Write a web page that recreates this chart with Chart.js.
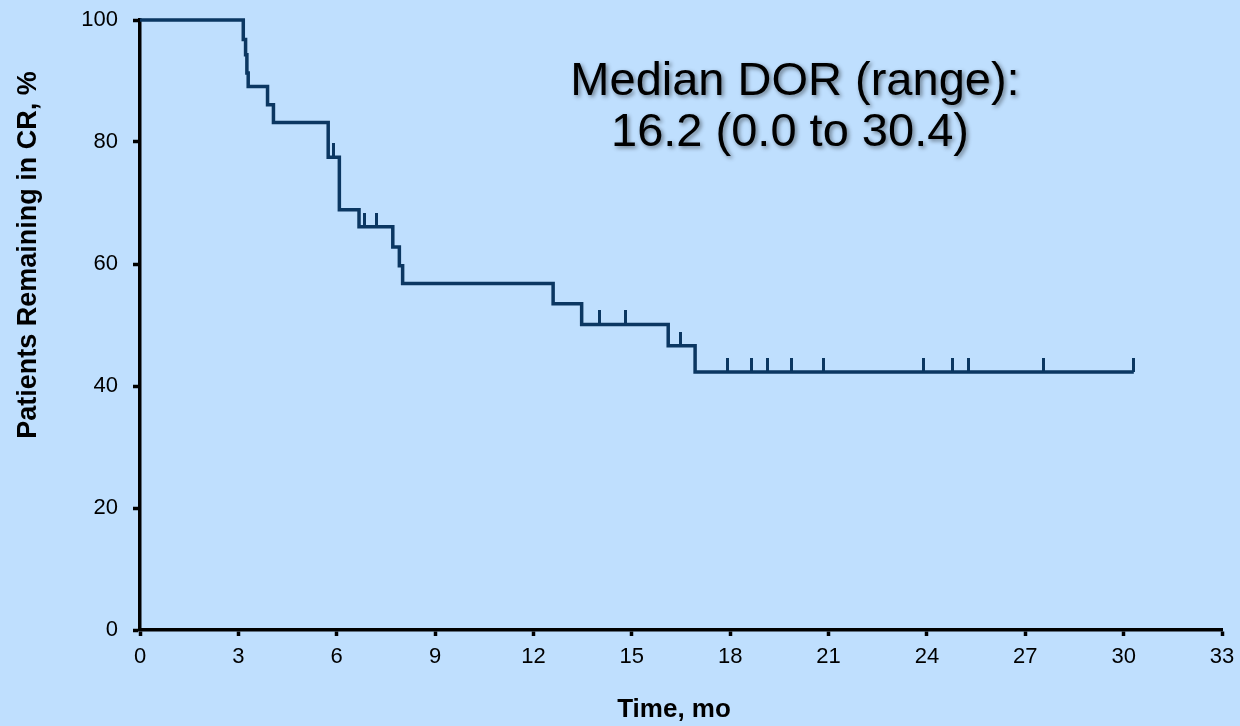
<!DOCTYPE html>
<html>
<head>
<meta charset="utf-8">
<title>Duration of complete response</title>
<script src="https://cdn.jsdelivr.net/npm/chart.js@4.4.1/dist/chart.umd.min.js"></script>
<style>
  html, body { margin: 0; padding: 0; background: #bfdffe; }
  #wrap { width: 1240px; height: 726px; }
  canvas { display: block; }
</style>
</head>
<body>
<div id="wrap"><canvas id="km" width="1240" height="726"></canvas></div>
<script>
// Kaplan–Meier curve: time of each drop (months) and the level after it (%)
const stepTimes  = [0, 3.15, 3.22, 3.26, 3.30, 3.89, 4.07, 5.74, 6.08, 6.68, 7.71, 7.91, 8.01, 12.60, 13.47, 16.11, 16.93];
const stepLevels = [100, 96.8, 94.3, 91.3, 89.1, 86.1, 83.2, 77.5, 68.9, 66.1, 62.8, 59.7, 56.8, 53.5, 50.1, 46.6, 42.3];
const lastFollowUp = 30.31;

// Censored observations (months)
const censorTimes = [5.90, 6.86, 7.20, 14.01, 14.80, 16.49, 17.91, 18.64, 19.13, 19.88, 20.86, 23.91, 24.77, 25.28, 27.55, 30.31];

// Axis ticks and texts
const xTicks = [0, 3, 6, 9, 12, 15, 18, 21, 24, 27, 30, 33];
const yTicks = [0, 20, 40, 60, 80, 100];
const xTitle = 'Time, mo';
const yTitle = 'Patients Remaining in CR, %';
const noteLines = ['Median DOR (range):', '16.2 (0.0 to 30.4)'];

const NAVY = '#0b3762';
const FONT = '"Liberation Sans", Arial, Helvetica, sans-serif';
Chart.defaults.font.family = FONT;
Chart.defaults.color = '#000';

// curve level at time t (last drop at or before t)
function levelAt(t) {
  let v = stepLevels[0];
  for (let i = 0; i < stepTimes.length; i++) {
    if (stepTimes[i] <= t) v = stepLevels[i];
  }
  return v;
}

const curve = stepTimes.map((t, i) => ({ x: t, y: stepLevels[i] }));
curve.push({ x: lastFollowUp, y: levelAt(lastFollowUp) });
const censored = censorTimes.map(t => ({ x: t, y: levelAt(t) }));

// censor mark: short vertical stroke rising from the curve
const tickMark = document.createElement('canvas');
tickMark.width = 3;
tickMark.height = 28;
(function () {
  const c = tickMark.getContext('2d');
  c.fillStyle = NAVY;
  c.fillRect(0, 0, 3, 14);
})();

// rotated y title, x title and the median annotation
const extraText = {
  id: 'extraText',
  afterDraw(chart) {
    const ctx = chart.ctx;
    ctx.save();
    ctx.fillStyle = '#000';
    ctx.font = 'bold 27px ' + FONT;
    ctx.textAlign = 'center';
    ctx.textBaseline = 'middle';
    ctx.save();
    ctx.translate(29, 255);
    ctx.rotate(-Math.PI / 2);
    ctx.fillText(yTitle, 0, 0);
    ctx.restore();
    ctx.font = 'bold 26px ' + FONT;
    ctx.fillText(xTitle, 674, 710);
    ctx.restore();

    ctx.save();
    ctx.font = '47px ' + FONT;
    ctx.fillStyle = '#000';
    ctx.textAlign = 'center';
    ctx.textBaseline = 'alphabetic';
    ctx.shadowColor = 'rgba(0, 0, 0, 0.45)';
    ctx.shadowOffsetX = 2;
    ctx.shadowOffsetY = 2;
    ctx.shadowBlur = 4;
    ctx.fillText(noteLines[0], 795, 95);
    ctx.fillText(noteLines[1], 790, 146);
    ctx.restore();
  }
};

new Chart(document.getElementById('km'), {
  type: 'line',
  data: {
    datasets: [
      {
        label: 'CR',
        data: curve,
        stepped: 'before',
        borderColor: NAVY,
        borderWidth: 3.5,
        borderJoinStyle: 'miter',
        borderCapStyle: 'butt',
        pointRadius: 0,
        fill: false,
        clip: false
      },
      {
        label: 'Censored',
        data: censored,
        showLine: false,
        pointStyle: tickMark,
        pointRadius: 5,
        borderWidth: 0,
        clip: false
      }
    ]
  },
  options: {
    responsive: false,
    animation: false,
    devicePixelRatio: 1,
    layout: { padding: { top: 20, right: 18, left: 0, bottom: 0 } },
    plugins: { legend: { display: false }, tooltip: { enabled: false } },
    scales: {
      x: {
        type: 'linear',
        min: 0,
        max: 33,
        afterBuildTicks(scale) { scale.ticks = xTicks.map(v => ({ value: v })); },
        afterFit(scale) {
          scale.height = 96;
          scale.paddingLeft = 0;
          scale.paddingRight = 0;
        },
        ticks: { font: { size: 22 }, color: '#000', padding: 8, maxRotation: 0 },
        grid: { display: true, drawOnChartArea: false, drawTicks: true, tickLength: 6, tickWidth: 3.5, tickColor: '#000' },
        border: { display: true, color: '#000', width: 3.5 },
        title: { display: false }
      },
      y: {
        type: 'linear',
        min: 0,
        max: 100,
        afterBuildTicks(scale) { scale.ticks = yTicks.map(v => ({ value: v })); },
        afterFit(scale) {
          scale.width = 140;
          scale.paddingTop = 0;
          scale.paddingBottom = 0;
        },
        ticks: { font: { size: 22 }, color: '#000', padding: 15 },
        grid: { display: true, drawOnChartArea: false, drawTicks: true, tickLength: 7, tickWidth: 3.5, tickColor: '#000' },
        border: { display: true, color: '#000', width: 3.5 },
        title: { display: false }
      }
    }
  },
  plugins: [extraText]
});
</script>
</body>
</html>
